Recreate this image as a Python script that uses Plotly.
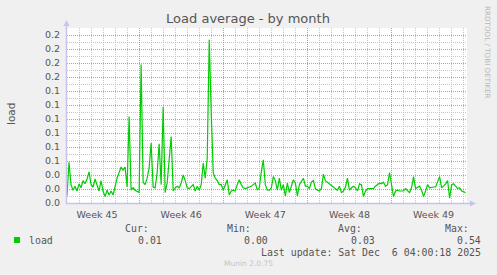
import plotly.graph_objects as go
import pandas as pd

# ---------------- data ----------------
title_text = "Load average - by month"
series_name = "load"
start_time = "2025-11-04 00:00"
sample_step = "4h"
x_range = ["2025-11-04 00:00", "2025-12-07 06:43"]
week_tick0 = "2025-11-03"

load = [
    0.009, 0.051, 0.023, 0.016, 0.021, 0.015, 0.024, 0.019, 0.028, 0.024, 0.030, 0.039, 0.023, 0.020, 0.030, 0.021, 0.015,
    0.028, 0.015, 0.008, 0.016, 0.010, 0.015, 0.010, 0.023, 0.031, 0.038, 0.045, 0.041, 0.045, 0.020, 0.108, 0.016, 0.019,
    0.016, 0.015, 0.013, 0.173, 0.026, 0.023, 0.031, 0.044, 0.075, 0.020, 0.019, 0.038, 0.074, 0.023, 0.120, 0.013, 0.025,
    0.054, 0.083, 0.015, 0.019, 0.021, 0.019, 0.025, 0.035, 0.028, 0.019, 0.018, 0.021, 0.023, 0.015, 0.021, 0.016, 0.023,
    0.050, 0.031, 0.056, 0.204, 0.113, 0.038, 0.031, 0.028, 0.023, 0.023, 0.016, 0.023, 0.029, 0.010, 0.015, 0.016, 0.015,
    0.023, 0.029, 0.023, 0.019, 0.018, 0.019, 0.019, 0.021, 0.023, 0.025, 0.016, 0.019, 0.039, 0.054, 0.023, 0.016, 0.016,
    0.019, 0.033, 0.028, 0.016, 0.031, 0.016, 0.023, 0.009, 0.025, 0.013, 0.021, 0.029, 0.025, 0.009, 0.023, 0.028, 0.031,
    0.021, 0.021, 0.018, 0.026, 0.028, 0.018, 0.016, 0.015, 0.018, 0.036, 0.028, 0.026, 0.024, 0.023, 0.020, 0.018, 0.016,
    0.021, 0.013, 0.015, 0.020, 0.031, 0.016, 0.019, 0.021, 0.019, 0.015, 0.024, 0.023, 0.008, 0.015, 0.018, 0.018, 0.018,
    0.018, 0.021, 0.023, 0.025, 0.024, 0.026, 0.021, 0.023, 0.038, 0.025, 0.008, 0.015, 0.016, 0.015, 0.015, 0.015, 0.018,
    0.015, 0.013, 0.019, 0.033, 0.018, 0.020, 0.021, 0.016, 0.008, 0.015, 0.023, 0.019, 0.020, 0.020, 0.020, 0.026, 0.033,
    0.019, 0.021, 0.024, 0.028, 0.006, 0.023, 0.024, 0.021, 0.018, 0.019, 0.015, 0.014, 0.013,
]

y_step = 0.0175
y_ticktext = ["0.0", "0.0", "0.0", "0.1", "0.1", "0.1", "0.1", "0.1", "0.1", "0.2", "0.2", "0.2", "0.2"]

legend_heads = ["Cur:", "Min:", "Avg:", "Max:"]
legend_vals = ["0.01", "0.00", "0.03", "0.54"]
last_update = "Last update: Sat Dec\u00a0 6 04:00:18 2025"
version_text = "Munin 2.0.75"
side_text = "RRDTOOL / TOBI OETIKER"

# ---------------- layout helpers ----------------
W, H = 497, 275
PL, PR, PT, PB = 67, 467, 28, 203

def px(x):
    return (x - PL) / (PR - PL)

def py(y):
    return (PB - y) / (PB - PT)

times = pd.date_range(start=start_time, periods=len(load), freq=sample_step)

GREEN = "#00cc00"
TXT = "#555555"
SANS = "DejaVu Sans"
MONO = "DejaVu Sans Mono"
MAJOR = "rgba(225,120,120,0.85)"
MINOR = "rgba(190,190,190,0.9)"
AXIS = "#c4c4ee"

fig = go.Figure()
fig.add_trace(go.Scatter(x=times, y=load, mode="lines",
                         line=dict(color=GREEN, width=1.2), name=series_name,
                         showlegend=False, hoverinfo="skip"))

fig.update_layout(
    width=W, height=H, autosize=False,
    margin=dict(l=PL, r=W - PR, t=PT, b=H - PB, pad=0),
    paper_bgcolor="#f0f0f0", plot_bgcolor="#ffffff",
    title=dict(text=title_text, x=248 / W, xanchor="center", y=1 - 18 / H, yanchor="middle",
               font=dict(family=SANS, size=13, color=TXT)),
    xaxis=dict(
        type="date", range=x_range,
        tick0=week_tick0, dtick=7 * 86400000, tickformat="Week %V", ticklabelmode="period",
        showgrid=True, gridcolor=MAJOR, griddash="1px,1px", gridwidth=1,
        ticks="", showline=False, zeroline=False,
        tickfont=dict(family=SANS, size=9.5, color=TXT),
        ticklabelstandoff=4,
        minor=dict(tick0=week_tick0, dtick=86400000, showgrid=True, gridcolor=MINOR,
                   griddash="1px,1px", gridwidth=1),
    ),
    yaxis=dict(
        range=[0, 12.5 * y_step],
        tickmode="array",
        tickvals=[i * y_step for i in range(len(y_ticktext))],
        ticktext=y_ticktext,
        showgrid=True, gridcolor=MAJOR, griddash="1px,1px", gridwidth=1,
        ticks="", showline=False, zeroline=False,
        tickfont=dict(family=SANS, size=9.5, color=TXT),
        ticklabelstandoff=6,
        minor=dict(tickmode="linear", tick0=y_step / 2, dtick=y_step, showgrid=True,
                   gridcolor=MINOR, griddash="1px,1px", gridwidth=1),
    ),
)

shapes = []
# axis lines with arrows
shapes.append(dict(type="line", xref="paper", yref="paper", x0=px(66.5), x1=px(66.5), y0=py(204), y1=py(24),
                   line=dict(color=AXIS, width=1.5)))
shapes.append(dict(type="line", xref="paper", yref="paper", x0=px(66), x1=px(471), y0=py(203.5), y1=py(203.5),
                   line=dict(color=AXIS, width=1.5)))
shapes.append(dict(type="path", xref="paper", yref="paper",
                   path=f"M {px(63.5)} {py(26)} L {px(69.5)} {py(26)} L {px(66.5)} {py(20)} Z",
                   fillcolor=AXIS, line=dict(width=0)))
shapes.append(dict(type="path", xref="paper", yref="paper",
                   path=f"M {px(470)} {py(200.5)} L {px(470)} {py(206.5)} L {px(476)} {py(203.5)} Z",
                   fillcolor=AXIS, line=dict(width=0)))
# legend swatch
shapes.append(dict(type="rect", xref="paper", yref="paper", x0=px(14), x1=px(20), y0=py(243), y1=py(237),
                   fillcolor=GREEN, line=dict(width=0)))
fig.update_layout(shapes=shapes)

ann = []
def add_text(text, x, y, xanchor="left", size=9.9, family=MONO, color=TXT, angle=0):
    ann.append(dict(text=text, xref="paper", yref="paper", x=px(x), y=py(y), xanchor=xanchor,
                    yanchor="middle", showarrow=False, textangle=angle,
                    font=dict(family=family, size=size, color=color)))

add_text("load", 10.5, 114.5, xanchor="center", size=10.5, family=SANS, angle=-90)
add_text(side_text, 488, 52, xanchor="center", size=7.2, family=SANS, color="#b8b8b8", angle=90)

head_right = [150.5, 252.5, 363.5, 470.5]
val_right = [163.5, 269.5, 376.5, 482.5]
for h, xr in zip(legend_heads, head_right):
    add_text(h, xr, 228.5, xanchor="right")
for v, xr in zip(legend_vals, val_right):
    add_text(v, xr, 240.5, xanchor="right")
add_text(series_name, 27, 240.5)
add_text(last_update, 482.5, 252.5, xanchor="right")
add_text(version_text, 248, 263.5, xanchor="center", size=7.5, family=SANS, color="#c4c4c4")

fig.update_layout(annotations=ann)
fig.write_html("out.html")
